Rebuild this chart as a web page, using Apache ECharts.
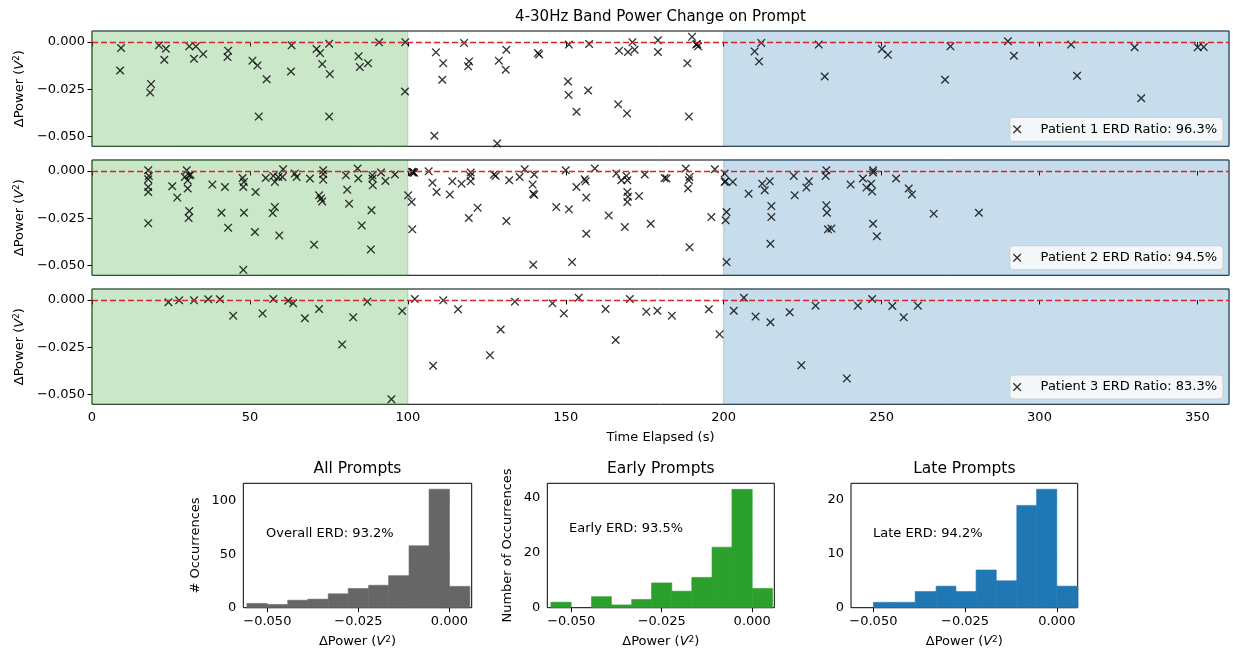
<!DOCTYPE html>
<html><head><meta charset="utf-8">
<script src="https://cdn.jsdelivr.net/npm/echarts@6/dist/echarts.min.js"></script>
<style>html,body{margin:0;padding:0;background:#fff}#c{width:1233px;height:652px}</style>
</head><body><div id="c"></div><script>
// ---------------- data ----------------
const p1Time = [9.2,8.9,18.7,18.4,21.2,23.4,22.9,30.8,32.9,32.3,35.2,43.1,42.9,50.8,52.4,55.3,52.8,63.2,63.0,71.1,72.2,75.1,72.9,75.3,75.1,84.4,84.8,87.4,90.9,99.2,99.1,
  108.9,111.2,110.9,108.4,117.8,119.4,119.1,131.2,128.8,131.0,128.3,141.2,141.6,151.0,150.7,150.9,153.4,157.4,157.1,166.6,169.4,166.9,169.7,171.1,171.8,179.2,179.2,190.0,191.3,191.9,191.6,188.5,189.0,
  211.9,209.8,211.2,230.1,232.0,250.1,252.0,271.8,270.1,290.0,291.9,310.0,311.9,330.1,332.2,350.1,352.0];
const p1Power = [-0.0032,-0.0151,-0.0223,-0.0268,-0.0018,-0.0036,-0.0094,-0.0023,-0.0023,-0.0089,-0.0064,-0.0046,-0.0080,-0.0099,-0.0124,-0.0197,-0.0395,-0.0018,-0.0156,-0.0037,-0.0059,-0.0009,-0.0117,-0.0170,-0.0395,-0.0076,-0.0133,-0.0112,-0.0002,-0.0001,-0.0262,
  -0.0055,-0.0112,-0.0200,-0.0496,-0.0005,-0.0103,-0.0129,-0.0041,-0.0099,-0.0147,-0.0537,-0.0059,-0.0066,-0.0014,-0.0209,-0.0280,-0.0369,-0.0011,-0.0257,-0.0330,-0.0378,-0.0046,-0.0053,-0.0001,-0.0041,0.0009,-0.0053,0.0027,-0.0014,-0.0023,-0.0011,-0.0112,-0.0395,
  -0.0005,-0.0050,-0.0103,-0.0014,-0.0183,-0.0037,-0.0068,-0.0023,-0.0200,0.0004,-0.0073,-0.0014,-0.0179,-0.0028,-0.0298,-0.0028,-0.0027];

const p2Time = [17.8,18.0,17.8,17.8,17.8,17.8,25.4,27.0,30.0,29.4,30.8,31.2,30.3,30.3,30.8,30.6,38.1,42.1,41.0,43.1,47.7,48.1,47.9,48.1,47.9,51.8,51.6,55.0,57.4,57.9,57.9,57.2,59.3,59.0,60.5,60.3,64.2,64.8,69.0,70.3,73.2,73.2,73.2,71.9,72.5,72.9,80.4,80.8,81.4,84.1,84.3,85.4,88.8,88.8,88.9,88.5,88.3,91.5,92.9,95.9,
  100.1,101.2,101.4,101.5,101.8,102.0,101.3,106.6,107.8,109.1,113.3,114.1,117.0,119.9,119.8,119.9,122.1,119.3,127.3,127.8,132.1,131.2,135.4,137.0,140.0,139.5,139.7,140.0,139.7,150.0,147.0,151.0,152.0,153.4,156.0,156.3,156.5,156.5,159.2,163.6,166.0,167.6,169.2,169.5,169.5,169.7,169.5,168.7,173.2,175.0,176.9,181.3,181.9,188.0,189.2,189.0,188.7,189.2,196.1,197.2,
  200.3,200.3,200.6,202.9,200.9,200.6,200.9,207.9,212.2,213.0,214.6,215.1,215.1,214.8,222.2,222.5,226.2,227.0,232.5,232.3,232.5,232.7,233.0,234.1,240.2,244.1,245.2,246.7,247.3,247.3,247.0,247.3,248.5,254.6,258.6,259.6,266.5,280.8];
const p2Power = [0.0004,-0.0026,-0.0044,-0.0085,-0.0111,-0.0276,-0.0081,-0.0141,0.0004,-0.0032,-0.0023,-0.0020,-0.0050,-0.0093,-0.0212,-0.0249,-0.0072,-0.0085,-0.0221,-0.0300,-0.0037,-0.0058,-0.0085,-0.0221,-0.0523,-0.0111,-0.0323,-0.0037,-0.0026,-0.0058,-0.0191,-0.0223,-0.0341,-0.0032,0.0009,-0.0032,-0.0014,-0.0032,-0.0040,-0.0390,0.0004,-0.0016,-0.0046,-0.0129,-0.0146,-0.0161,-0.0023,-0.0099,-0.0173,0.0013,-0.0040,-0.0288,-0.0023,-0.0040,-0.0076,-0.0208,-0.0415,-0.0008,-0.0053,-0.0019,
  -0.0129,-0.0164,-0.0309,-0.0008,-0.0006,-0.0010,-0.0004,-0.0002,-0.0062,-0.0111,-0.0125,-0.0055,-0.0067,-0.0008,-0.0026,-0.0055,-0.0194,-0.0249,-0.0019,-0.0026,-0.0049,-0.0265,-0.0032,0.0009,-0.0019,-0.0072,-0.0120,-0.0126,-0.0496,0.0004,-0.0191,-0.0203,-0.0482,-0.0085,-0.0044,-0.0055,-0.0141,-0.0332,0.0013,-0.0235,-0.0014,-0.0049,-0.0026,-0.0049,-0.0111,-0.0136,-0.0164,-0.0297,-0.0133,-0.0019,-0.0279,-0.0037,-0.0040,0.0013,-0.0032,-0.0049,-0.0093,-0.0403,-0.0244,0.0009,
  -0.0014,-0.0058,-0.0055,-0.0058,-0.0217,-0.0261,-0.0482,-0.0120,-0.0067,-0.0102,-0.0055,-0.0186,-0.0244,-0.0385,-0.0026,-0.0129,-0.0088,-0.0055,0.0004,-0.0026,-0.0182,-0.0221,-0.0309,-0.0305,-0.0072,-0.0040,-0.0088,-0.0067,0.0004,-0.0008,-0.0108,-0.0279,-0.0346,-0.0040,-0.0093,-0.0124,-0.0226,-0.0221];

const p3Time = [24.2,27.6,32.3,36.8,40.5,44.7,54.0,57.4,62.1,63.7,67.4,71.9,79.2,82.7,87.2,94.8,98.2,102.2,111.2,108.0,115.9,133.9,129.4,126.0,145.8,149.4,154.1,162.6,165.8,170.3,175.5,179.0,183.6,195.3,198.7,203.2,206.4,210.1,214.8,220.9,224.6,229.1,239.0,242.5,247.0,253.4,257.0,261.5];
const p3Power = [-0.0012,-0.0002,-0.0002,0.0004,0.0004,-0.0083,-0.0071,0.0005,-0.0004,-0.0018,-0.0097,-0.0048,-0.0235,-0.0092,-0.0009,-0.0525,-0.0058,0.0005,-0.0002,-0.0348,-0.0049,-0.0009,-0.0156,-0.0292,-0.0018,-0.0071,0.0012,-0.0048,-0.0212,0.0005,-0.0062,-0.0057,-0.0083,-0.0049,-0.0182,-0.0057,0.0012,-0.0088,-0.0118,-0.0065,-0.0345,-0.0030,-0.0415,-0.0030,0.0005,-0.0032,-0.0092,-0.0030];

const patientLabels = ['Patient 1 ERD Ratio: 96.3%','Patient 2 ERD Ratio: 94.5%','Patient 3 ERD Ratio: 83.3%'];
const earlySpan = [0, 100];
const lateSpan = [200, 360];
const timeTicks = [0,50,100,150,200,250,300,350];
const powerTicks = [-0.05,-0.025,0];

const allEdges = [-0.0556,-0.0500,-0.0444,-0.0389,-0.0333,-0.0278,-0.0222,-0.0167,-0.0111,-0.0056,0.0000,0.0056];
const allCounts = [4,3,7,8,13,18,21,30,58,111,20];
const earlyEdges = [-0.0556,-0.0500,-0.0444,-0.0389,-0.0333,-0.0278,-0.0222,-0.0167,-0.0111,-0.0056,0.0000,0.0056];
const earlyCounts = [2,0,4,1,3,9,6,11,22,43,7];
const lateEdges = [-0.0500,-0.0443,-0.0386,-0.0329,-0.0275,-0.0220,-0.0165,-0.0109,-0.0055,0.0000,0.0057];
const lateCounts = [1,1,3,4,3,7,5,19,22,4];
const histPowerTicks = [-0.05,-0.025,0];
const allCountTicks = [0,50,100];
const earlyCountTicks = [0,20,40];
const lateCountTicks = [0,10,20];
const histTitles = ['All Prompts','Early Prompts','Late Prompts'];
const histNotes = ['Overall ERD: 93.2%','Early ERD: 93.5%','Late ERD: 94.2%'];
const histYNames = ['# Occurrences','Number of Occurrences',''];
const mainTitle = '4-30Hz Band Power Change on Prompt';
const timeName = 'Time Elapsed (s)';

// ---------------- chart ----------------
const F = '"DejaVu Sans", sans-serif';
const FS = 13;
const fmt3 = v => (v < -1e-9 ? '\u2212' : '') + Math.abs(v).toFixed(3);
const powerName = '{n|\u0394Power (}{i|V}{s|2}{n|)}';
const nameRich = {
  n:{fontSize:FS,fontFamily:F,color:'#000'},
  i:{fontSize:FS,fontFamily:F,fontStyle:'italic',color:'#000'},
  s:{fontSize:9,fontFamily:F,color:'#000',verticalAlign:'top',padding:[0,0,5,0]}
};
const xMark = 'path://M0,0.11L0.11,0L0.5,0.39L0.89,0L1,0.11L0.61,0.5L1,0.89L0.89,1L0.5,0.61L0.11,1L0,0.89L0.39,0.5Z';

const topGrids = [31,160,289];
const histLefts = [243.3,547.3,851];
const histWidths = [228.4,227,226.7];

const grid = topGrids.map(t => ({left:92, top:t, width:1137, height:115.3, show:true, borderColor:'#000', borderWidth:1, backgroundColor:'transparent'}))
  .concat(histLefts.map((l,i) => ({left:l, top:483.3, width:histWidths[i], height:124.4, show:true, borderColor:'#000', borderWidth:1, backgroundColor:'transparent'})));

const tickStyle = {show:true, length:4.5, inside:false, lineStyle:{color:'#000', width:1}};
const labelStyle = {color:'#000', fontSize:FS, fontFamily:F};

const xAxis = [], yAxis = [];
for (let k=0;k<3;k++){
  xAxis.push({type:'value', gridIndex:k, min:0, max:360, axisLine:{show:false}, splitLine:{show:false},
    axisTick:Object.assign({customValues:timeTicks}, tickStyle),
    axisLabel:Object.assign({show:k===2, customValues:timeTicks, margin:7}, labelStyle),
    name: k===2 ? timeName : '', nameLocation:'middle', nameGap:27, nameTextStyle:{color:'#000', fontSize:FS, fontFamily:F}});
  yAxis.push({type:'value', gridIndex:k, min:-0.0552, max:0.0058, axisLine:{show:false}, splitLine:{show:false},
    axisTick:Object.assign({customValues:powerTicks}, tickStyle),
    axisLabel:Object.assign({customValues:powerTicks, formatter:fmt3, margin:7}, labelStyle),
    name:powerName, nameLocation:'middle', nameRotate:90, nameGap:62, nameTextStyle:{rich:nameRich}});
}
const histX = [[-0.0566,0.0061],[-0.0566,0.0061],[-0.0561,0.0057]];
const histY = [[116.5,allCountTicks],[45.2,earlyCountTicks],[23.1,lateCountTicks]];
const yGaps = [41,33,30];
for (let k=0;k<3;k++){
  xAxis.push({type:'value', gridIndex:3+k, min:histX[k][0], max:histX[k][1], axisLine:{show:false}, splitLine:{show:false},
    axisTick:Object.assign({customValues:histPowerTicks}, tickStyle),
    axisLabel:Object.assign({customValues:histPowerTicks, formatter:fmt3, margin:7}, labelStyle),
    name:powerName, nameLocation:'middle', nameGap:27, nameTextStyle:{rich:nameRich}});
  yAxis.push({type:'value', gridIndex:3+k, min:0, max:histY[k][0], axisLine:{show:false}, splitLine:{show:false},
    axisTick:Object.assign({customValues:histY[k][1]}, tickStyle),
    axisLabel:Object.assign({customValues:histY[k][1], margin:7}, labelStyle),
    name:histYNames[k], nameLocation:'middle', nameRotate:90, nameGap:yGaps[k], nameTextStyle:{color:'#000', fontSize:FS, fontFamily:F}});
}

const pts = [[p1Time,p1Power],[p2Time,p2Power],[p3Time,p3Power]];
const series = [];
pts.forEach((p,k) => {
  series.push({
    type:'scatter', name:patientLabels[k], xAxisIndex:k, yAxisIndex:k, z:3,
    symbol:xMark, symbolSize:8.5, itemStyle:{color:'#000'}, silent:true,
    data:p[0].map((t,i)=>[t,p[1][i]]),
    markArea:{silent:true, z:1, data:[
      [{xAxis:earlySpan[0], itemStyle:{color:'rgba(44,160,44,0.25)', borderColor:'rgba(44,160,44,0.3)', borderWidth:1}},{xAxis:earlySpan[1]}],
      [{xAxis:lateSpan[0], itemStyle:{color:'rgba(31,119,180,0.25)', borderColor:'rgba(31,119,180,0.3)', borderWidth:1}},{xAxis:lateSpan[1]}]
    ]},
    markLine:{silent:true, symbol:['none','none'], label:{show:false}, lineStyle:{color:'#d62728', type:[6,3], width:1.4}, data:[{yAxis:0}]}
  });
});
const histData = [[allEdges,allCounts,'#666666'],[earlyEdges,earlyCounts,'#2ca02c'],[lateEdges,lateCounts,'#1f77b4']];
histData.forEach((h,k) => {
  const color = h[2];
  series.push({
    type:'custom', xAxisIndex:3+k, yAxisIndex:3+k, silent:true,
    encode:{x:[0,1], y:2},
    data:h[1].map((c,i)=>[h[0][i], h[0][i+1], c]),
    renderItem:(params, api) => {
      const a = api.coord([api.value(0), api.value(2)]);
      const b = api.coord([api.value(1), 0]);
      const h2 = b[1]-a[1];
      if (h2 <= 0) return null;
      return {type:'rect', shape:{x:a[0], y:a[1], width:b[0]-a[0], height:h2}, style:{fill:color, stroke:color, lineWidth:0.6}};
    }
  });
});

const legendTops = [117.3,245.7,375];
const legend = legendTops.map((t,k) => ({
  data:[patientLabels[k]], right:10, top:t, orient:'horizontal',
  icon:xMark, itemWidth:29, itemHeight:8.5, symbolKeepAspect:true,
  padding:[5,6,5,3], backgroundColor:'rgba(255,255,255,0.8)', borderColor:'#cccccc', borderWidth:1, borderRadius:3,
  textStyle:{color:'#000', fontSize:FS, fontFamily:F, padding:[0,0,0,4], lineHeight:14},
  selectedMode:false, itemStyle:{color:'#000'}
}));

const histCenters = histLefts.map((l,i)=> l + histWidths[i]/2);
const graphic = [{type:'text', x:660.5, y:17, style:{text:mainTitle, fontSize:15, fontFamily:F, fill:'#000', align:'center', verticalAlign:'middle'}}];
histCenters.forEach((c,k) => graphic.push({type:'text', x:c, y:469, style:{text:histTitles[k], fontSize:15.5, fontFamily:F, fill:'#000', align:'center', verticalAlign:'middle'}}));
const noteXY = [[266,534],[569,529],[873,534]];
noteXY.forEach((p,k) => graphic.push({type:'text', x:p[0], y:p[1], style:{text:histNotes[k], fontSize:FS, fontFamily:F, fill:'#000', align:'left', verticalAlign:'middle'}}));

const chart = echarts.init(document.getElementById('c'), null, {renderer:'canvas'});
chart.setOption({animation:false, backgroundColor:'#fff', grid, xAxis, yAxis, series, legend, graphic});
</script></body></html>
